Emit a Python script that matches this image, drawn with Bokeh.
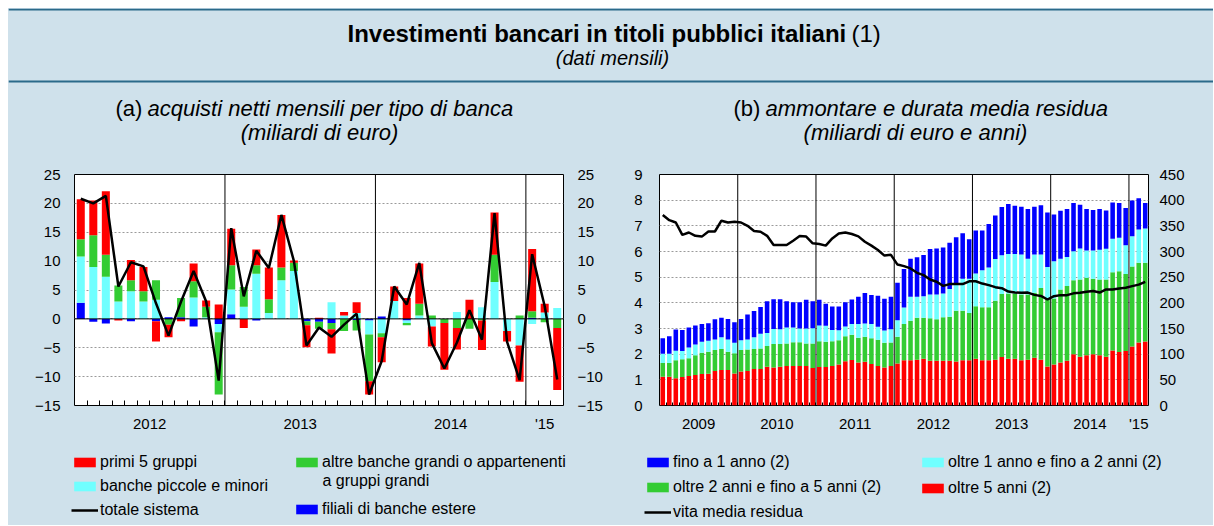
import numpy as np
from bokeh.plotting import figure
from bokeh.models import Range1d, LinearAxis, FixedTicker, Span, Label, Legend, LegendItem
from bokeh.layouts import column, row
from bokeh.embed import file_html
from bokeh.resources import INLINE

FONT = "Liberation Sans"
BG = "#cfe1eb"
RULE = "#2b6a8a"
RED, GREEN, CYAN, BLUE = "#ff0000", "#33cc33", "#70ffff", "#0000ff"

# ---------------- panel (a): net monthly purchases, Jan 2012 - Mar 2015 (bn euro)
a_filiali = [2.8, -0.5, -0.8, 0, -0.4, 0, -0.4, 0.3, 0.3, -1.3, 0, -0.9,
             0.8, 0, -0.3, 0, 0, 0, -0.4, -0.5, -0.7, 0, -0.2, -0.3,
             0.4, 0, -0.3, 0, 0, 0, 0, 0, 0, 0, 0, 0,
             0.2, 0, 0]
a_piccole = [8.0, 9.0, 7.3, 3.0, 4.8, 3.0, 3.3, 0, 0, 3.7, 0.3, -1.4,
             4.3, 2.1, 7.8, 1.0, 6.7, 8.3, 0, 0, 2.9, 0.6, 1.0, -2.4,
             -2.5, 3.1, -0.4, 0.6, -1.3, 0, 1.2, 0, 2.0, 6.4, -2.1, -4.6,
             -0.9, 1.1, 1.9]
a_altre = [3.0, 5.5, 3.8, 2.8, 1.9, 1.8, 3.4, -1.0, 3.3, 2.8, 1.8, -10.8,
           4.2, 3.4, 1.5, 2.4, 2.2, 1.4, -0.7, -1.2, -1.1, -2.1, -1.8, -8.1,
           -0.7, 0, -0.4, 2.0, 0.6, -0.7, -1.6, -1.7, -0.3, 4.7, 0, 0.6,
           1.1, -0.6, -1.6]
a_primi5 = [6.9, 6.0, 11.0, -0.3, 3.5, 4.2, -3.5, -2.2, -0.4, 3.1, 1.1, 2.5,
            6.3, -1.6, 2.7, 5.5, 9.1, 0.4, -3.8, 0.2, -4.2, 0.6, 1.9, -2.3,
            -4.3, 2.5, 3.6, 7.0, -3.5, -8.1, -3.7, 3.3, -5.1, 7.3, -1.8, -6.3,
            10.8, 1.5, -10.7]
a_totale = [20.8, 20.0, 21.3, 5.6, 9.8, 9.1, 2.7, -2.9, 3.0, 8.3, 3.0, -10.7,
            15.7, 3.9, 11.8, 8.8, 18.0, 10.0, -4.6, -1.5, -3.1, -1.0, 0.9, -13.1,
            -7.3, 5.6, 2.5, 9.7, -4.2, -8.6, -4.1, 1.5, -3.6, 18.3, -4.0, -10.6,
            11.2, 2.2, -10.5]
a_tick_pos = [6, 18, 30, 37.5]
a_tick_labels = ["2012", "2013", "2014", "'15"]
a_year_bounds = [12, 24, 36]
a_yticks = [-15, -10, -5, 0, 5, 10, 15, 20, 25]

# ---------------- panel (b): amount by residual maturity (bn euro), Jan 2009 - Mar 2015
b_oltre5 = [56, 56, 53, 55.5, 57.5, 59.5, 61.5, 62, 67, 69, 69, 62.5,
            66, 67, 71, 71, 75.5, 74, 75.5, 77, 77, 77, 77, 73,
            75, 75, 77, 80, 86, 88.5, 84, 85, 81, 77, 74, 77,
            82, 88, 88, 89, 91, 87, 87, 87, 87, 85.5, 88, 88,
            91, 88, 88, 89, 94.5, 91, 91, 88, 89, 93, 89, 76,
            80, 84, 87, 100, 95, 98, 100, 98, 95, 107, 104, 106,
            115, 122.5, 124.5]
b_2_5 = [27, 27, 35, 34.5, 34.5, 38.5, 41.5, 42.5, 41, 41, 35.5, 39.5,
         42, 42, 39, 40, 40.5, 46, 44.5, 44, 46, 46, 44, 48,
         50, 49, 48, 47, 49, 49.5, 48, 49, 50, 51, 48, 45.5,
         52, 71, 77, 82, 80, 83, 81, 85, 86, 99, 96.5, 92,
         102.5, 103.5, 103.5, 115, 122.5, 127, 127, 128, 127, 126.5, 140, 132.5,
         128.5, 142, 146, 144, 150.5, 151, 147, 147.5, 150.5, 152.5, 157.5, 150,
         156, 155.5, 153.5]
b_1_2 = [18, 18, 18.5, 16, 21, 21, 21, 21.5, 20.5, 23, 24, 20,
         19, 19.5, 23, 29, 25, 29, 28.5, 31, 29, 27, 29, 29.5,
         31, 31.5, 22, 19.5, 19, 21, 27, 25.5, 28, 25.5, 24, 26,
         32, 32, 47, 41, 42, 46, 48, 46, 54, 53.5, 62.5, 67,
         63.5, 72, 77.5, 81.5, 75.5, 77, 77, 78, 70, 74.5, 65, 61.5,
         72.5, 60, 56.5, 56.5, 60.5, 53, 55, 58, 60, 65.5, 65.5, 56,
         58.5, 65, 67]
b_fino1 = [30, 34, 41.5, 41, 39, 37, 35, 34, 39.5, 38, 40, 40,
           41.5, 49, 51, 52, 62, 58, 58.5, 51, 49, 51, 56, 52.5,
           50, 42.5, 46, 46.5, 47, 47.5, 53, 59.5, 56.5, 60.5, 62, 63.5,
           73, 75, 74, 77, 80, 89, 90, 90, 90, 90, 88.5, 77,
           84, 77.5, 84.5, 84.5, 94, 97.5, 94, 93, 97, 93, 96, 106,
           91, 93.5, 93.5, 94, 85, 81, 79, 79.5, 74.5, 70.5, 67.5, 72.5,
           70, 60.5, 49.5]
b_vita = [7.42, 7.22, 7.13, 6.65, 6.74, 6.61, 6.58, 6.78, 6.78, 7.20, 7.13, 7.16,
          7.13, 7.00, 6.80, 6.77, 6.61, 6.25, 6.25, 6.25, 6.42, 6.60, 6.58, 6.32,
          6.29, 6.23, 6.51, 6.70, 6.74, 6.68, 6.59, 6.38, 6.23, 6.06, 5.84, 5.87,
          5.49, 5.43, 5.34, 5.17, 5.08, 4.91, 4.82, 4.66, 4.73, 4.73, 4.73, 4.84,
          4.84, 4.75, 4.69, 4.61, 4.57, 4.44, 4.40, 4.39, 4.40, 4.31, 4.27, 4.13,
          4.26, 4.30, 4.30, 4.37, 4.39, 4.43, 4.46, 4.40, 4.52, 4.52, 4.56, 4.59,
          4.65, 4.71, 4.82]
b_tick_pos = [6, 18, 30, 42, 54, 66, 73.5]
b_tick_labels = ["2009", "2010", "2011", "2012", "2013", "2014", "'15"]
b_year_bounds = [12, 24, 36, 48, 60, 72]
b_yticks_years = list(range(0, 10))
b_yticks_amount = list(range(0, 451, 50))


def stack_signed(series_list):
    n = len(series_list[0])
    pos = np.zeros(n)
    neg = np.zeros(n)
    out = []
    for s in series_list:
        s = np.asarray(s, dtype=float)
        bottom = np.where(s >= 0, pos, neg)
        top = bottom + s
        pos = np.where(s >= 0, top, pos)
        neg = np.where(s < 0, top, neg)
        out.append((bottom, top))
    return out


def stack_positive(series_list):
    out = []
    base = np.zeros(len(series_list[0]))
    for s in series_list:
        s = np.asarray(s, dtype=float)
        out.append((base.copy(), base + s))
        base = base + s
    return out


def style_panel(p):
    p.background_fill_color = "white"
    p.border_fill_color = BG
    p.outline_line_color = "black"
    p.outline_line_width = 1
    p.xgrid.visible = False
    p.ygrid.grid_line_color = "#9a9a9a"
    p.ygrid.grid_line_dash = "2 2"
    p.ygrid.grid_line_width = 1


def style_axis(ax, standoff):
    ax.axis_line_color = None
    ax.major_tick_line_color = None
    ax.minor_tick_line_color = None
    ax.major_tick_in = 0
    ax.major_tick_out = 0
    ax.minor_tick_in = 0
    ax.minor_tick_out = 0
    ax.major_label_text_font = FONT
    ax.major_label_text_font_size = "15px"
    ax.major_label_text_color = "black"
    ax.major_label_standoff = standoff


def style_xaxis(ax, ticks, labels, n, tick_len):
    ax.ticker = FixedTicker(ticks=ticks, minor_ticks=list(range(1, n)))
    ax.major_label_overrides = dict(zip(ticks, labels))
    style_axis(ax, 9)
    ax.minor_tick_line_color = "black"
    ax.minor_tick_in = tick_len
    ax.minor_tick_out = 0


# ---------------- panel (a) figure
na = len(a_totale)
xa = np.arange(na) + 0.5
a_series = [a_filiali, a_piccole, a_altre, a_primi5]
a_colors = [BLUE, CYAN, GREEN, RED]
pa = figure(width=597, height=276, x_range=Range1d(0, na), y_range=Range1d(-15, 25),
            output_backend="svg", toolbar_location=None,
            min_border_left=66, min_border_right=42, min_border_top=16, min_border_bottom=28)
style_panel(pa)
for (bot, top), col in zip(stack_signed(a_series), a_colors):
    pa.vbar(x=xa, bottom=bot, top=top, width=0.64, fill_color=col, line_color=None)
pa.line(xa, a_totale, line_color="black", line_width=2.5)
for b in a_year_bounds:
    pa.add_layout(Span(location=b, dimension="height", line_color="black", line_width=1))
pa.add_layout(Span(location=0, dimension="width", line_color="black", line_width=1))
pa.yaxis.ticker = FixedTicker(ticks=a_yticks)
pa.ygrid.ticker = FixedTicker(ticks=a_yticks)
style_axis(pa.yaxis[0], 14)
ra = LinearAxis(ticker=FixedTicker(ticks=a_yticks))
style_axis(ra, 14)
pa.add_layout(ra, "right")
style_xaxis(pa.xaxis[0], a_tick_pos, a_tick_labels, na, 5)

# ---------------- panel (b) figure
nb = len(b_vita)
xb = np.arange(nb) + 0.5
b_series = [b_oltre5, b_2_5, b_1_2, b_fino1]
b_colors = [RED, GREEN, CYAN, BLUE]
pb = figure(width=608, height=276, x_range=Range1d(0, nb), y_range=Range1d(0, 9),
            output_backend="svg", toolbar_location=None,
            min_border_left=54, min_border_right=65, min_border_top=16, min_border_bottom=28)
pb.extra_y_ranges = {"amt": Range1d(0, 450)}
style_panel(pb)
for (bot, top), col in zip(stack_positive(b_series), b_colors):
    pb.vbar(x=xb, bottom=bot, top=top, width=0.7, fill_color=col,
            line_color=None, y_range_name="amt")
pb.line(xb, b_vita, line_color="black", line_width=2.5)
for b in b_year_bounds:
    pb.add_layout(Span(location=b, dimension="height", line_color="black", line_width=1))
pb.yaxis.ticker = FixedTicker(ticks=b_yticks_years)
pb.ygrid.ticker = FixedTicker(ticks=b_yticks_years)
style_axis(pb.yaxis[0], 17)
rb = LinearAxis(y_range_name="amt", ticker=FixedTicker(ticks=b_yticks_amount))
style_axis(rb, 11)
pb.add_layout(rb, "right")
style_xaxis(pb.xaxis[0], b_tick_pos, b_tick_labels, nb, 3)


# ---------------- helpers for text areas (coordinates = pixels)
def blank(w, h):
    p = figure(width=w, height=h, x_range=Range1d(0, w), y_range=Range1d(h, 0),
               x_axis_type=None, y_axis_type=None, output_backend="svg",
               toolbar_location=None, min_border=0, background_fill_color=BG,
               border_fill_color=BG, outline_line_color=None)
    p.grid.visible = False
    return p


def label(p, x, y, text, size, style="normal", align="left"):
    p.add_layout(Label(x=x, y=y, text=text, text_font=FONT, text_font_size=size,
                       text_font_style=style, text_align=align,
                       text_baseline="middle", text_color="black"))


ph = blank(1205, 150)
ph.add_layout(Span(location=1, dimension="width", line_color=RULE, line_width=2))
ph.add_layout(Span(location=73, dimension="width", line_color=RULE, line_width=2))
label(ph, 339, 25, "Investimenti bancari in titoli pubblici italiani", "24px", "bold")
label(ph, 843, 25, "(1)", "24px")
label(ph, 604, 49, "(dati mensili)", "20px", "italic", "center")
label(ph, 107, 100, "(a)", "22px")
label(ph, 139, 100, "acquisti netti mensili per tipo di banca", "22px", "italic")
label(ph, 311, 124, "(miliardi di euro)", "22px", "italic", "center")
label(ph, 725, 100, "(b)", "22px")
label(ph, 757, 100, "ammontare e durata media residua", "22px", "italic")
label(ph, 907, 124, "(miliardi di euro e anni)", "22px", "italic", "center")


# ---------------- legends (series drawn as hidden renderers so the keys get their style)
def make_legend(items, x, y, spacing):
    return Legend(items=items, location=(x, y), orientation="vertical",
                  label_text_font=FONT, label_text_font_size="16px",
                  label_text_color="black", glyph_width=27, glyph_height=12,
                  label_height=20, spacing=spacing, padding=0, margin=0,
                  label_standoff=2, border_line_color=None,
                  background_fill_alpha=0, inactive_fill_alpha=0)


def key_bar(p, x, values, color):
    return p.vbar(x=x, top=values, width=0.5, fill_color=color, line_color=None,
                  visible=False)


def key_line(p, x, values):
    return p.line(x=x, y=values, line_color="black", line_width=2.5, visible=False)


la = blank(597, 91)
ka = [key_bar(la, xa, s, c) for s, c in zip(a_series, a_colors)]
kal = key_line(la, xa, a_totale)
la.add_layout(make_legend([
    LegendItem(label="primi 5 gruppi", renderers=[ka[3]]),
    LegendItem(label="banche piccole e minori", renderers=[ka[1]]),
    LegendItem(label="totale sistema", renderers=[kal]),
], 63, 5, 4))
la.add_layout(make_legend([
    LegendItem(label="altre banche grandi o appartenenti", renderers=[ka[2]]),
    LegendItem(label="filiali di banche estere", renderers=[ka[0]]),
], 285, 6, 27))
label(la, 314, 46, "a gruppi grandi", "16px")

lb = blank(608, 91)
kb = [key_bar(lb, xb, s, c) for s, c in zip(b_series, b_colors)]
kbl = key_line(lb, xb, b_vita)
lb.add_layout(make_legend([
    LegendItem(label="fino a 1 anno (2)", renderers=[kb[3]]),
    LegendItem(label="oltre 2 anni e fino a 5 anni (2)", renderers=[kb[1]]),
    LegendItem(label="vita media residua", renderers=[kbl]),
], 39, 3, 5))
lb.add_layout(make_legend([
    LegendItem(label="oltre 1 anno e fino a 2 anni (2)", renderers=[kb[2]]),
    LegendItem(label="oltre 5 anni (2)", renderers=[kb[0]]),
], 314, 27, 6))

layout = column(ph, row(pa, pb, styles={"background-color": BG}),
                row(la, lb, styles={"background-color": BG}),
                margin=(8, 0, 0, 8), styles={"background-color": BG})
open("out.html", "w").write(file_html(layout, INLINE))
